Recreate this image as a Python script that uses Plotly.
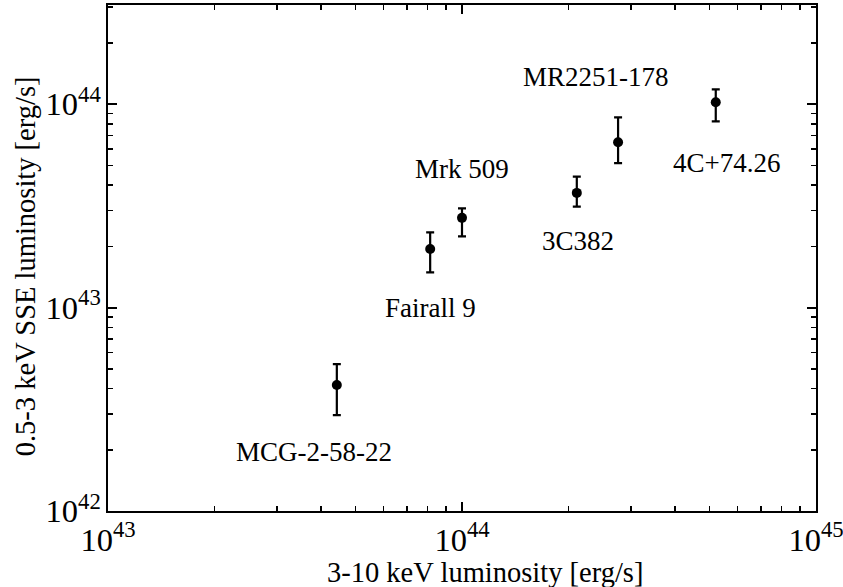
import plotly.graph_objects as go
import numpy as np

names = ["MCG-2-58-22", "Fairall 9", "Mrk 509", "3C382", "MR2251-178", "4C+74.26"]
lx = [4.43e43, 8.13e43, 1.00e44, 2.11e44, 2.76e44, 5.21e44]
ly = [4.16e42, 1.94e43, 2.76e43, 3.66e43, 6.49e43, 1.02e44]
ly_hi = [5.27e42, 2.34e43, 3.07e43, 4.40e43, 8.61e43, 1.18e44]
ly_lo = [2.96e42, 1.49e43, 2.24e43, 3.13e43, 5.13e43, 8.22e43]

x_title = "3-10 keV luminosity [erg/s]"
y_title = "0.5-3 keV SSE luminosity [erg/s]"

# label offsets in pixels (x right, y up)
label_dx = [-23, 0, 0, 1, -22, 11]
label_dy = [-67, -59, 49, -48, 65, -61]

x = np.array(lx)
y = np.array(ly)
err_p = np.array(ly_hi) - y
err_m = y - np.array(ly_lo)

FONT = "Liberation Serif"

fig = go.Figure()
fig.add_trace(go.Scatter(
    x=x, y=y, mode="markers",
    marker=dict(color="black", size=10, symbol="circle"),
    error_y=dict(type="data", symmetric=False, array=err_p, arrayminus=err_m,
                 color="black", thickness=2.2, width=4),
    showlegend=False, hoverinfo="skip",
))

for n, xi, yi, dx, dy in zip(names, lx, ly, label_dx, label_dy):
    fig.add_annotation(x=np.log10(xi), y=np.log10(yi), text=n, showarrow=False,
                       xshift=dx, yshift=dy, font=dict(family=FONT, size=27, color="black"))

fig.add_annotation(xref="paper", yref="paper", x=0.5325, y=-0.1225, text=x_title,
                   showarrow=False, xanchor="center", yanchor="middle",
                   font=dict(family=FONT, size=28.5, color="black"))
fig.add_annotation(xref="paper", yref="paper", x=-0.117, y=0.484, text=y_title,
                   showarrow=False, xanchor="center", yanchor="middle", textangle=-90,
                   font=dict(family=FONT, size=28.5, color="black"))

axis_common = dict(
    type="log", dtick=1, exponentformat="power", showgrid=False, zeroline=False,
    showline=True, linecolor="black", linewidth=2, mirror="allticks",
    ticks="inside", ticklen=9, tickwidth=2, tickcolor="black",
    minor=dict(ticks="inside", ticklen=5, tickwidth=1.5, tickcolor="black", dtick="D1", showgrid=False),
    tickfont=dict(family=FONT, size=26, color="black"),
    ticklabeloverflow="allow",
)

fig.update_xaxes(range=[43, 45], **axis_common)
fig.update_yaxes(range=[42, 44.487], **axis_common)

fig.update_layout(
    width=843, height=587,
    margin=dict(l=108, r=27, t=5, b=76, autoexpand=False),
    paper_bgcolor="white", plot_bgcolor="white",
    font=dict(family=FONT, size=26, color="black"),
    hovermode=False,
)

fig.write_html("out.html", config={"displayModeBar": False, "staticPlot": True})
with open("out.html", "r", encoding="utf-8") as f:
    html = f.read()
html = html.replace("<head>", "<head><style>html,body{margin:0;padding:0;overflow:hidden;}</style>", 1)
with open("out.html", "w", encoding="utf-8") as f:
    f.write(html)
